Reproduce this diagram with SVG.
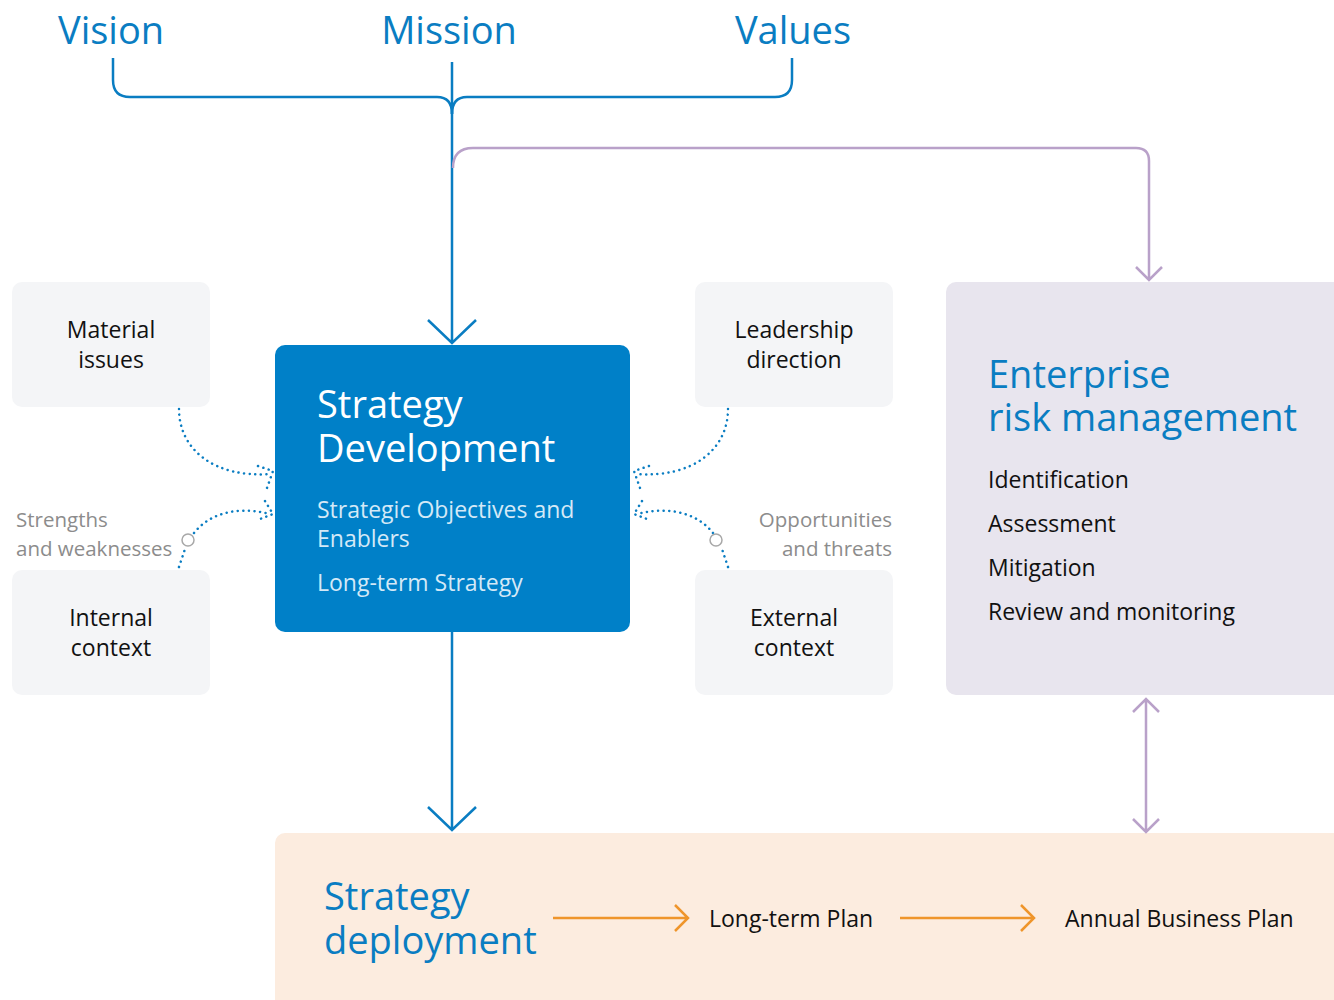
<svg xmlns="http://www.w3.org/2000/svg" width="1334" height="1000" viewBox="0 0 1334 1000">
<style>
text{font-family:"Open Sans","Noto Sans","Liberation Sans",sans-serif}
.big{font-size:38px;fill:#0a7dc2}
.node{fill:#f4f5f7}
.nt{font-size:23px;fill:#111;text-anchor:middle}
.item{font-size:23px;fill:#111}
.gray{font-size:20.5px;fill:#8c8c8c}
.blue{stroke:#0a7dc2;stroke-width:2.5;fill:none}
.purple{stroke:#b9a1c9;stroke-width:2.5;fill:none}
.orange{stroke:#ef952b;stroke-width:2.5;fill:none}
.dot{stroke:#0a7dc2;stroke-width:2.5;fill:none;stroke-dasharray:0.1 5.5;stroke-linecap:round}
</style>
<rect width="1334" height="1000" fill="#fff"/>
<g id="vision"><text class="big" x="58" y="44">Vision</text></g>
<g id="mission"><text class="big" x="449" y="44" text-anchor="middle">Mission</text></g>
<g id="values"><text class="big" x="793" y="44" text-anchor="middle">Values</text></g>

<g id="material"><rect class="node" x="12" y="282" width="198" height="125" rx="10"/><text class="nt" x="111" y="338">Material<tspan x="111" dy="30">issues</tspan></text></g>
<g id="internal"><rect class="node" x="12" y="570" width="198" height="125" rx="10"/><text class="nt" x="111" y="626">Internal<tspan x="111" dy="30">context</tspan></text></g>
<g id="leadership"><rect class="node" x="695" y="282" width="198" height="125" rx="10"/><text class="nt" x="794" y="338">Leadership<tspan x="794" dy="30">direction</tspan></text></g>
<g id="external"><rect class="node" x="695" y="570" width="198" height="125" rx="10"/><text class="nt" x="794" y="626">External<tspan x="794" dy="30">context</tspan></text></g>

<g id="strategy-development"><rect x="275" y="345" width="355" height="287" rx="10" fill="#0080c8"/>
<text x="317" y="418" font-size="38" fill="#fff">Strategy<tspan x="317" dy="44">Development</tspan></text>
<text x="317" y="518" font-size="23" fill="#d4e9f7">Strategic Objectives and<tspan x="317" dy="29">Enablers</tspan></text>
<text x="317" y="591" font-size="23" fill="#d4e9f7">Long-term Strategy</text></g>

<g id="erm"><rect x="946" y="282" width="400" height="413" rx="10" fill="#e8e5ee"/>
<text class="big" x="988" y="388" font-size="37.5">Enterprise<tspan x="988" dy="43">risk management</tspan></text>
<text class="item" x="988" y="488">Identification</text>
<text class="item" x="988" y="532">Assessment</text>
<text class="item" x="988" y="576">Mitigation</text>
<text class="item" x="988" y="620">Review and monitoring</text></g>

<g id="deployment"><rect x="275" y="833" width="1070" height="180" rx="10" fill="#fcecdf"/>
<text class="big" x="324" y="910">Strategy<tspan x="324" dy="44">deployment</tspan></text>
<text class="item" x="709" y="927">Long-term Plan</text>
<text class="item" x="1065" y="927">Annual Business Plan</text></g>

<g id="labels">
<text class="gray" x="16" y="527">Strengths<tspan x="16" dy="29">and weaknesses</tspan></text>
<text class="gray" x="892" y="527" text-anchor="end">Opportunities<tspan x="892" dy="29">and threats</tspan></text>
</g>

<g id="connectors">
<path class="blue" d="M113,58 V80 Q113,97 130,97 H437 Q452,97 452,114"/>
<path class="blue" d="M792,58 V80 Q792,97 775,97 H467 Q452,97 452,114"/>
<path class="blue" d="M452,62 V343 M428,320 L452,343 L476,320"/>
<path class="blue" d="M452,632 V830 M428,807 L452,830 L476,807"/>
<path class="purple" d="M453,168 Q453,148 473,148 H1136 Q1149,148 1149,161 V280 M1136,267 L1149,280 L1162,267"/>
<path class="purple" d="M1146,699 V832 M1133,712 L1146,699 L1159,712 M1133,819 L1146,832 L1159,819"/>
<path class="orange" d="M553,918 H688 M675,905 L688,918 L675,931"/>
<path class="orange" d="M900,918 H1034 M1021,905 L1034,918 L1021,931"/>
<path class="dot" d="M179,409 C179,450 215,478 270,474 M258,466 L273,471 L267,488"/>
<path class="dot" d="M179,567 L185,549 M194,533 C208,515 235,505 270,514 M265,501 L273,514 L260,519"/>
<circle cx="188" cy="540" r="6" fill="none" stroke="#a8a8a8" stroke-width="1.5"/>
<path class="dot" d="M728,409 C728,450 692,478 637,474 M649,466 L634,471 L640,488"/>
<path class="dot" d="M728,567 L722,549 M713,533 C699,515 672,505 637,514 M642,501 L634,514 L647,519"/>
<circle cx="716" cy="540" r="6" fill="none" stroke="#a8a8a8" stroke-width="1.5"/>
</g>
</svg>
